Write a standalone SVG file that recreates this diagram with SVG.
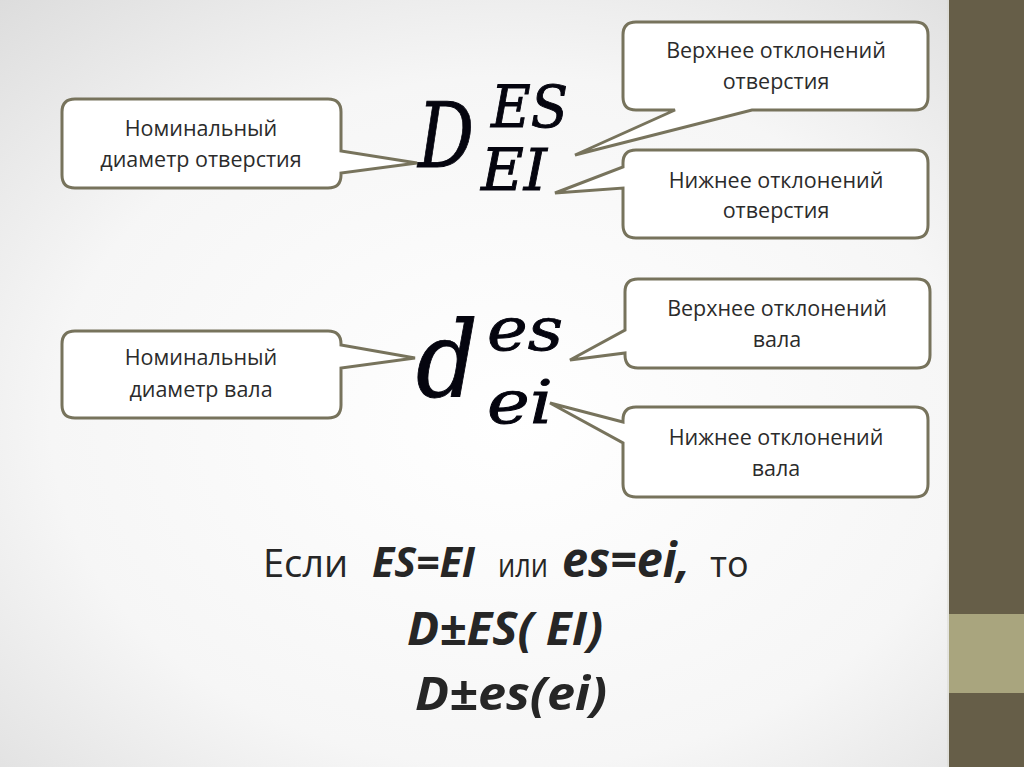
<svg xmlns="http://www.w3.org/2000/svg" width="1024" height="767" viewBox="0 0 1024 767">
<defs>
<radialGradient id="bg" cx="0.5" cy="0.55" r="0.75">
<stop offset="0" stop-color="#ffffff"/>
<stop offset="0.6" stop-color="#f6f6f6"/>
<stop offset="1" stop-color="#dcdcdc"/>
</radialGradient>
<style>
.call{fill:#ffffff;stroke:#77735c;stroke-width:3;stroke-linejoin:miter}
.lbl{font-family:"Open Sans","Noto Sans",sans-serif;font-size:21.5px;fill:#2b2b2b;text-anchor:middle}
.math{font-family:"DejaVu Serif",serif;font-style:italic;fill:#05050f;stroke:#05050f;stroke-width:0.9}
.reg{font-family:"Open Sans","Noto Sans",sans-serif;fill:#262626}
.bi{font-family:"Open Sans","Noto Sans",sans-serif;font-weight:bold;font-style:italic;fill:#262626}
</style>
</defs>
<rect x="0" y="0" width="1024" height="767" fill="url(#bg)"/>
<rect x="949" y="0" width="75" height="767" fill="#665e48"/>
<rect x="949" y="614" width="75" height="79" fill="#a9a57e"/>
<line x1="948" y1="0" x2="948" y2="767" stroke="#d8d8d0" stroke-width="1"/>

<g id="connectors"></g>

<g id="formula-D">
<text class="math" x="418" y="167" font-size="89" textLength="56" lengthAdjust="spacingAndGlyphs">D</text>
<text class="math" x="491" y="127" font-size="58" textLength="77" lengthAdjust="spacingAndGlyphs">ES</text>
<text class="math" x="481" y="190" font-size="58" textLength="66" lengthAdjust="spacingAndGlyphs">EI</text>
</g>
<g id="formula-d">
<text class="math" x="416" y="397" font-size="105" textLength="62" lengthAdjust="spacingAndGlyphs">d</text>
<text class="math" x="487" y="350" font-size="60" textLength="76" lengthAdjust="spacingAndGlyphs">es</text>
<text class="math" x="487" y="423" font-size="60" textLength="66" lengthAdjust="spacingAndGlyphs">ei</text>
</g>

<g id="node-nom-hole">
<path class="call" d="M75,99 H328 Q341,99 341,112 V151 L417,163 L341,173 V175 Q341,188 328,188 H75 Q62,188 62,175 V112 Q62,99 75,99 Z"/>
<text class="lbl" x="201" y="136">Номинальный</text>
<text class="lbl" x="201" y="167">диаметр отверстия</text>
</g>
<g id="node-es-hole">
<path class="call" d="M636,22 H915 Q928,22 928,35 V97 Q928,110 915,110 H752 L575,155 L675,110 H636 Q623,110 623,97 V35 Q623,22 636,22 Z"/>
<text class="lbl" x="776" y="58">Верхнее отклонений</text>
<text class="lbl" x="776" y="89">отверстия</text>
</g>
<g id="node-ei-hole">
<path class="call" d="M636,150 H915 Q928,150 928,163 V225 Q928,238 915,238 H636 Q623,238 623,225 V188 L555,193 L623,167 V163 Q623,150 636,150 Z"/>
<text class="lbl" x="776" y="188">Нижнее отклонений</text>
<text class="lbl" x="776" y="218">отверстия</text>
</g>
<g id="node-nom-shaft">
<path class="call" d="M75,331 H328 Q341,331 341,344 V345 L415,358 L341,368 V405 Q341,418 328,418 H75 Q62,418 62,405 V344 Q62,331 75,331 Z"/>
<text class="lbl" x="201" y="365">Номинальный</text>
<text class="lbl" x="201" y="397">диаметр вала</text>
</g>
<g id="node-es-shaft">
<path class="call" d="M638,279 H917 Q930,279 930,292 V355 Q930,368 917,368 H638 Q625,368 625,355 V353 L570,360 L625,330 V292 Q625,279 638,279 Z"/>
<text class="lbl" x="777" y="316">Верхнее отклонений</text>
<text class="lbl" x="777" y="347">вала</text>
</g>
<g id="node-ei-shaft">
<path class="call" d="M636,407 H915 Q928,407 928,420 V484 Q928,497 915,497 H636 Q623,497 623,484 V443 L550,403 L623,422 V420 Q623,407 636,407 Z"/>
<text class="lbl" x="776" y="445">Нижнее отклонений</text>
<text class="lbl" x="776" y="476">вала</text>
</g>

<g id="conclusion">
<text class="reg" x="263" y="577" font-size="38">Если</text>
<text class="bi" x="372" y="577" font-size="42" textLength="103" lengthAdjust="spacingAndGlyphs">ES=EI</text>
<text class="reg" x="498" y="577" font-size="33" textLength="50" lengthAdjust="spacingAndGlyphs">или</text>
<text class="bi" x="562" y="577" font-size="48" textLength="128" lengthAdjust="spacingAndGlyphs">es=ei,</text>
<text class="reg" x="710" y="577" font-size="36">то</text>
<text class="bi" x="407" y="645" font-size="47" textLength="196" lengthAdjust="spacingAndGlyphs">D±ES( EI)</text>
<text class="bi" x="415" y="710" font-size="47" textLength="192" lengthAdjust="spacingAndGlyphs">D±es(ei)</text>
</g>
</svg>
